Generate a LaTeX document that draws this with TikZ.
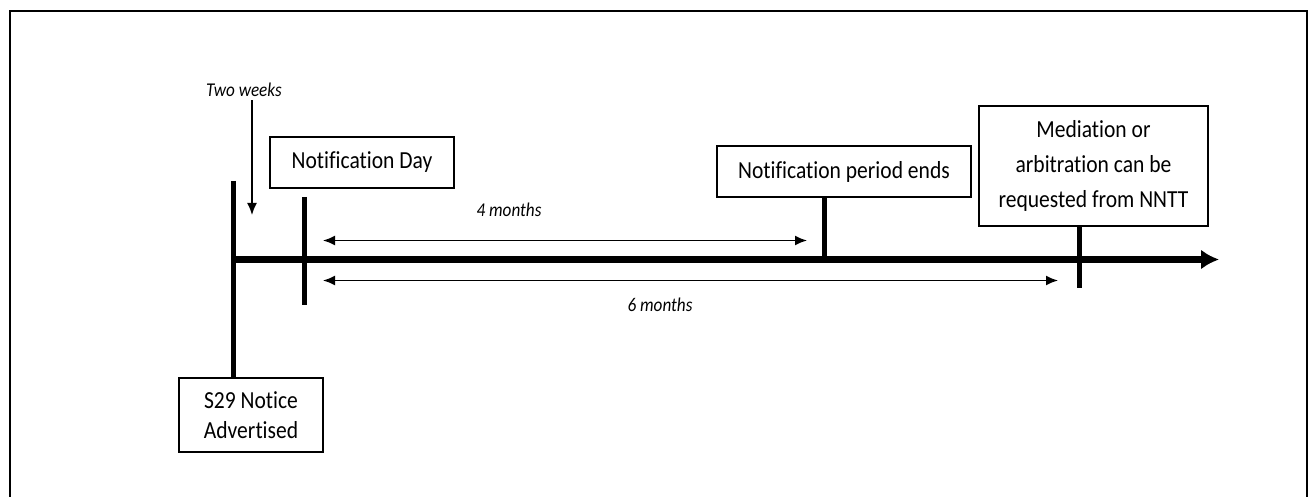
\documentclass[tikz,border=0pt]{standalone}
\usepackage{fontspec}
\setmainfont{Carlito}[FakeStretch=0.88,Ligatures=NoCommon]
\usepackage{tikz}
\usetikzlibrary{arrows.meta}

\begin{document}
\begin{tikzpicture}[x=1pt,y=-1pt,
	event/.style={draw,line width=1.6pt,align=center,inner sep=0pt,font=\fontsize{24.5}{35}\selectfont},
	tick/.style={line width=5pt},
	span/.style={line width=1.6pt,{Latex[length=12pt,width=10pt]}-{Latex[length=12pt,width=10pt]}},
	gap/.style={font=\fontsize{19.5}{23}\selectfont\itshape}]
	\useasboundingbox (0,0) rectangle (1309,497);
	\draw[line width=1.8pt] (10,497) -- (10,11) -- (1307,11) -- (1307,497);
	\node[event,minimum width=184pt,minimum height=51pt] (notify) at (362,162.5) {Notification Day};
	\node[event,minimum width=254pt,minimum height=51pt] (ends) at (844,171.5) {Notification period ends};
	\node[event,minimum width=229pt,minimum height=120pt] (nntt) at (1093.5,166) {Mediation or\\arbitration can be\\requested from NNTT};
	\node[event,minimum width=144pt,minimum height=74pt,font=\fontsize{24.5}{30}\selectfont] (s29) at (251,415) {S29 Notice\\Advertised};
	\coordinate (start) at (233,259.5);
	\coordinate (stop) at (1219,259.5);
	\coordinate (s29top) at (233,181);
	\coordinate (ntop) at (304,197);
	\coordinate (nbot) at (304,305);
	\coordinate (endsx) at (824.5,259.5);
	\coordinate (nnttx) at (1079,288);
	\draw[line width=7pt,-{Latex[length=18pt,width=20pt]}] (start) -- (stop);
	\draw[tick] (s29top) -- (s29.north -| s29top);
	\draw[tick] (ntop) -- (nbot);
	\draw[tick] (ends.south -| endsx) -- (endsx);
	\draw[tick] (nntt.south -| nnttx) -- (nnttx);
	\node[gap] (weeks) at (244,90) {Two weeks};
	\coordinate (weeksend) at (252,215);
	\draw[line width=1.6pt,-{Latex[length=12pt,width=10pt]}] (weeks.south -| weeksend) -- (weeksend);
	\coordinate (a4) at (323,240.5);
	\coordinate (b4) at (807,240.5);
	\coordinate (a6) at (323,280.5);
	\coordinate (b6) at (1058,280.5);
	\draw[span] (a4) -- (b4);
	\draw[span] (a6) -- (b6);
	\node[gap] (four) at (509,210) {4 months};
	\node[gap] (six) at (660,305) {6 months};
\end{tikzpicture}
\end{document}
